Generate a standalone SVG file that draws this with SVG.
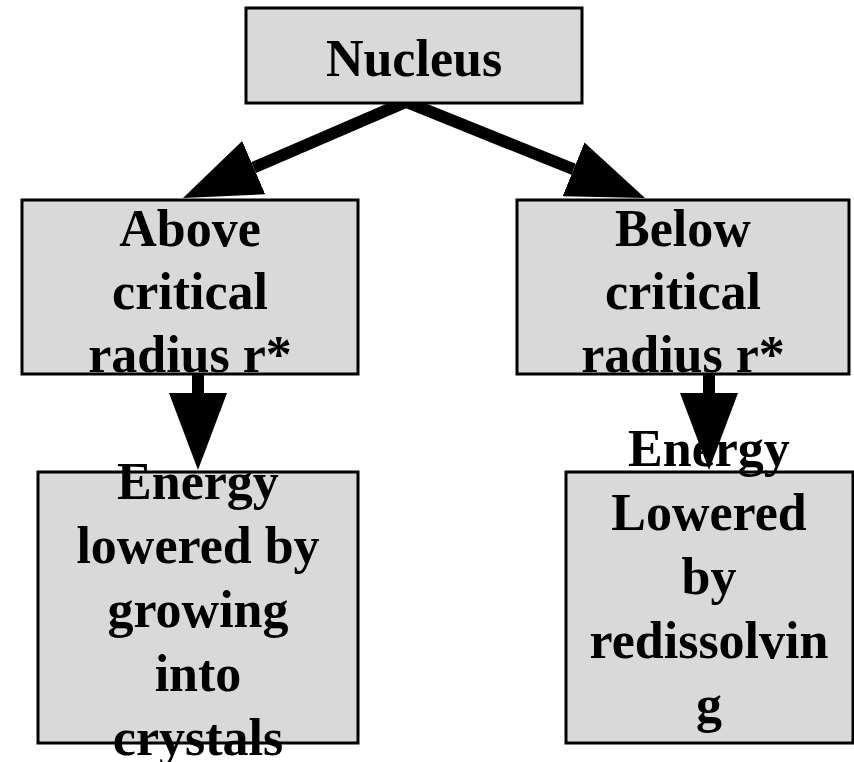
<svg xmlns="http://www.w3.org/2000/svg" width="854" height="762" viewBox="0 0 854 762">
  <style>
    .box { fill: #d9d9d9; stroke: #000; stroke-width: 3; }
    .t { font-family: "Liberation Serif", "Times New Roman", serif; font-weight: bold; font-size: 52px; fill: #000; text-anchor: middle; }
    .conn { stroke: #000; stroke-width: 12; fill: none; marker-end: url(#head); }
  </style>
  <defs>
    <marker id="head" markerUnits="userSpaceOnUse" viewBox="0 0 77 58" markerWidth="77" markerHeight="58" refX="0" refY="29" orient="auto">
      <path d="M0,0 L77,29 L0,58 Z" fill="#000"/>
    </marker>
  </defs>
  <rect width="854" height="762" fill="#fff"/>
  <g id="connectors">
    <line class="conn" x1="408" y1="101" x2="253.7" y2="167.6"/>
    <line class="conn" x1="404" y1="101" x2="573.6" y2="169.3"/>
    <line class="conn" x1="198" y1="374" x2="198" y2="393"/>
    <line class="conn" x1="709" y1="374" x2="709" y2="393"/>
  </g>
  <g id="nucleus">
    <rect class="box" x="246" y="8" width="336" height="95"/>
    <text class="t" x="414" y="76">Nucleus</text>
  </g>
  <g id="above">
    <rect class="box" x="22" y="200" width="336" height="174"/>
    <text class="t" x="190" y="246">Above</text>
    <text class="t" x="190" y="309">critical</text>
    <text class="t" x="190" y="372">radius r*</text>
  </g>
  <g id="below">
    <rect class="box" x="517" y="200" width="332" height="174"/>
    <text class="t" x="683" y="246">Below</text>
    <text class="t" x="683" y="309">critical</text>
    <text class="t" x="683" y="372">radius r*</text>
  </g>
  <g id="growing">
    <rect class="box" x="38" y="472" width="320" height="271"/>
    <text class="t" x="198" y="499">Energy</text>
    <text class="t" x="198" y="563">lowered by</text>
    <text class="t" x="198" y="627">growing</text>
    <text class="t" x="198" y="691">into</text>
    <text class="t" x="198" y="755">crystals</text>
  </g>
  <g id="redissolving">
    <rect class="box" x="566" y="472" width="287" height="271"/>
    <text class="t" x="709" y="466">Energy</text>
    <text class="t" x="709" y="530">Lowered</text>
    <text class="t" x="709" y="594">by</text>
    <text class="t" x="709" y="658">redissolvin</text>
    <text class="t" x="709" y="722">g</text>
  </g>
</svg>
